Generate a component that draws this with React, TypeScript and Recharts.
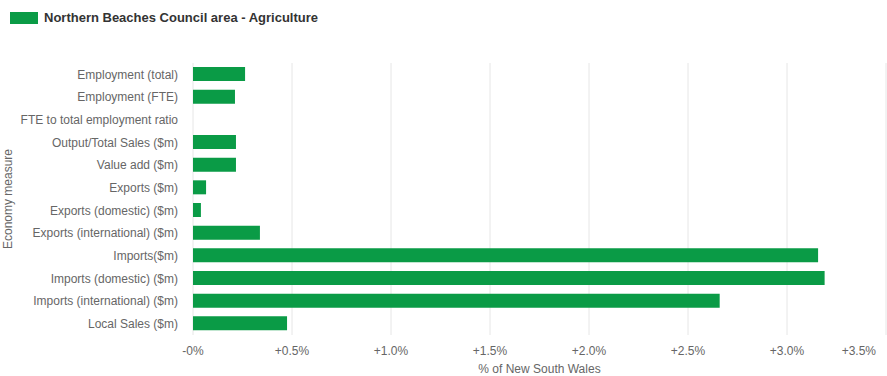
import React from 'react';
import { BarChart, Bar, XAxis, YAxis, CartesianGrid } from 'recharts';

const categories = [
  'Employment (total)',
  'Employment (FTE)',
  'FTE to total employment ratio',
  'Output/Total Sales ($m)',
  'Value add ($m)',
  'Exports ($m)',
  'Exports (domestic) ($m)',
  'Exports (international) ($m)',
  'Imports($m)',
  'Imports (domestic) ($m)',
  'Imports (international) ($m)',
  'Local Sales ($m)',
];

// % of NSW (ratio row has no bar)
const shares: (number | null)[] = [0.263, 0.212, null, 0.217, 0.217, 0.066, 0.04, 0.338, 3.157, 3.19, 2.66, 0.475];

const xTicks = [0, 0.5, 1, 1.5, 2, 2.5, 3, 3.5];

const seriesName = 'Northern Beaches Council area - Agriculture';
const GREEN = '#0a9b46';
const FONT = '"Liberation Sans", Arial, sans-serif';

const data = categories.map((name, i) => ({ name, value: shares[i] }));

const fmtTick = (v: number) => (v === 0 ? '-0%' : `+${v.toFixed(1)}%`);

const XTick = (props: any) => {
  const { x, y, payload } = props;
  const last = payload.value === xTicks[xTicks.length - 1];
  return (
    <text
      x={last ? x - 1 : x}
      y={y}
      dy="0.71em"
      textAnchor={last ? 'end' : 'middle'}
      fill="#666"
      fontSize={12}
      fontFamily={FONT}
    >
      {fmtTick(payload.value)}
    </text>
  );
};

// plain single-line category labels (no wrapping)
const YTick = (props: any) => {
  const { x, y, payload } = props;
  return (
    <text x={x} y={y} dy="0.355em" textAnchor="end" fill="#666" fontSize={12} fontFamily={FONT}>
      {payload.value}
    </text>
  );
};

export default function App() {
  return (
    <div style={{ position: 'absolute', left: 0, top: 0, width: 887, height: 376, background: '#fff', fontFamily: FONT }}>
      {/* legend */}
      <div style={{ position: 'absolute', left: 10, top: 10, display: 'flex', alignItems: 'center' }}>
        <span style={{ display: 'inline-block', width: 28, height: 12, background: GREEN, marginRight: 6 }} />
        <span style={{ fontSize: 13, fontWeight: 'bold', color: '#333' }}>{seriesName}</span>
      </div>
      <BarChart
        width={887}
        height={376}
        data={data}
        layout="vertical"
        margin={{ top: 63, right: 1, bottom: 0, left: 0 }}
      >
        <CartesianGrid horizontal={false} vertical stroke="#e6e6e6" />
        <XAxis
          type="number"
          domain={[0, 3.5]}
          ticks={xTicks}
          height={41}
          axisLine={false}
          tickLine={false}
          tickSize={0}
          tickMargin={11}
          tick={<XTick />}
          label={{ value: '% of New South Wales', position: 'insideBottom', offset: 3, fill: '#666', fontSize: 12, fontFamily: FONT }}
        />
        <YAxis
          type="category"
          dataKey="name"
          width={193}
          axisLine={false}
          tickLine={false}
          tickSize={0}
          tickMargin={15}
          tick={<YTick />}
          interval={0}
          label={{
            value: 'Economy measure',
            angle: -90,
            position: 'insideLeft',
            offset: 8,
            fill: '#666',
            fontSize: 12,
            fontFamily: FONT,
            style: { textAnchor: 'middle' },
          }}
        />
        <Bar dataKey="value" fill={GREEN} barSize={14} isAnimationActive={false} />
      </BarChart>
    </div>
  );
}
